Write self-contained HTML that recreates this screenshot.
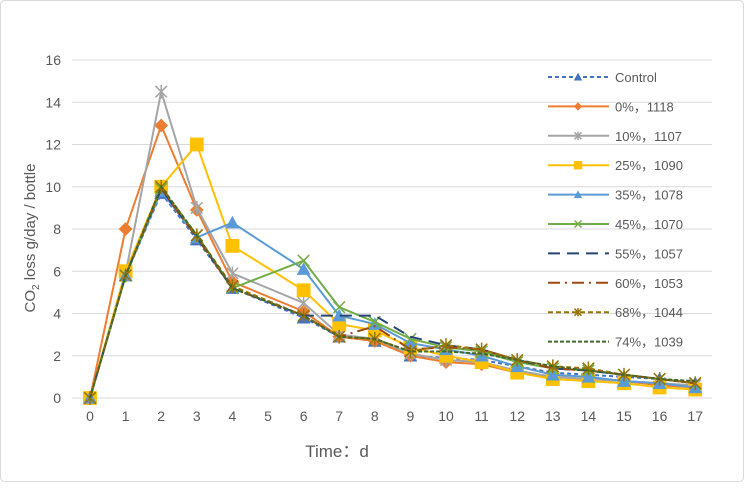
<!DOCTYPE html>
<html><head><meta charset="utf-8"><style>
body{margin:0;background:#fff}
svg text{font-family:"Liberation Sans","Noto Sans CJK SC",sans-serif;fill:#595959}
</style></head><body>
<svg id="s" width="745" height="483" xmlns="http://www.w3.org/2000/svg">
<rect x="0.5" y="0.5" width="743" height="481" rx="4" fill="#fff" stroke="#d9d9d9"/>
<g id="g"></g>
<text x="337" y="457" font-size="17" text-anchor="middle">Time：d</text>
<text transform="translate(35,238) rotate(-90)" font-size="15" text-anchor="middle">CO<tspan font-size="10" dy="4">2</tspan><tspan dy="-4"> loss g/day / bottle</tspan></text>
</svg>
<script>
var g=document.getElementById('g'),h='';
function X(i){return 90+i*35.6}function Y(v){return 398-v*21.125}
for(var k=0;k<=8;k++){var y=Y(k*2);h+='<line x1="72" x2="712" y1="'+y+'" y2="'+y+'" stroke="#d9d9d9"/>';h+='<text x="61" y="'+(y+5)+'" font-size="14" text-anchor="end">'+(k*2)+'</text>';}
for(var i=0;i<18;i++)h+='<text x="'+X(i)+'" y="421" font-size="14" text-anchor="middle">'+i+'</text>';
var idx=[0,1,2,3,4,6,7,8,9,10,11,12,13,14,15,16,17];
var S=[
['Control','#4472C4','4,3','tri',[0,5.8,9.7,7.5,5.2,3.8,2.9,2.7,2.0,1.9,1.8,1.5,1.2,1.1,1.0,0.9,0.7]],
['0%，1118','#ED7D31','','dia',[0,8.0,12.9,8.9,5.5,4.1,2.9,2.7,2.0,1.7,1.6,1.2,1.0,0.9,0.8,0.6,0.5]],
['10%，1107','#A5A5A5','','ast',[0,5.9,14.5,9.0,5.9,4.5,3.0,2.8,2.1,1.8,1.7,1.3,1.0,0.9,0.8,0.7,0.6]],
['25%，1090','#FFC000','','sq',[0,6.0,10.0,12.0,7.2,5.1,3.5,3.2,2.4,2.0,1.7,1.2,0.9,0.8,0.7,0.5,0.4]],
['35%，1078','#5B9BD5','','tri',[0,5.8,9.8,7.6,8.3,6.1,3.9,3.5,2.6,2.3,2.0,1.5,1.1,1.0,0.8,0.7,0.5]],
['45%，1070','#70AD47','','x',[0,5.8,9.9,7.7,5.2,6.5,4.3,3.6,2.8,2.4,2.2,1.7,1.4,1.3,1.1,0.9,0.7]],
['55%，1057','#264478','12,7','',[0,5.8,9.9,7.6,5.2,3.9,3.9,3.9,2.9,2.5,2.3,1.8,1.4,1.3,1.1,0.9,0.7]],
['60%，1053','#9E480E','12,5,2,5','',[0,5.8,9.9,7.6,5.2,3.9,2.9,3.4,2.3,2.4,2.3,1.8,1.4,1.3,1.1,0.9,0.7]],
['68%，1044','#997300','5,3','ast',[0,5.8,10.0,7.7,5.3,3.9,2.9,2.8,2.2,2.5,2.3,1.8,1.5,1.4,1.1,0.9,0.7]],
['74%，1039','#43682B','4,2','',[0,5.8,10.0,7.7,5.2,3.9,2.9,2.8,2.2,2.2,2.1,1.8,1.5,1.3,1.1,0.9,0.8]]];
function mk(t,x,y,c,s){s=s||1.15;
if(t=='tri')return '<path d="M'+x+','+(y-6*s)+'L'+(x+6*s)+','+(y+5*s)+'L'+(x-6*s)+','+(y+5*s)+'Z" fill="'+c+'"/>';
if(t=='dia')return '<path d="M'+x+','+(y-6*s)+'L'+(x+6*s)+','+y+'L'+x+','+(y+6*s)+'L'+(x-6*s)+','+y+'Z" fill="'+c+'"/>';
if(t=='sq')return '<rect x="'+(x-6*s)+'" y="'+(y-6*s)+'" width="'+12*s+'" height="'+12*s+'" fill="'+c+'"/>';
if(t=='x')return '<path d="M'+(x-5*s)+','+(y-5*s)+'L'+(x+5*s)+','+(y+5*s)+'M'+(x+5*s)+','+(y-5*s)+'L'+(x-5*s)+','+(y+5*s)+'" stroke="'+c+'" stroke-width="1.5"/>';
if(t=='ast')return '<path d="M'+(x-5*s)+','+(y-5*s)+'L'+(x+5*s)+','+(y+5*s)+'M'+(x+5*s)+','+(y-5*s)+'L'+(x-5*s)+','+(y+5*s)+'M'+x+','+(y-6*s)+'L'+x+','+(y+6*s)+'" stroke="'+c+'" stroke-width="1.5"/>';
return '';}
S.forEach(function(s,j){var p=s[4].map(function(v,k){return X(idx[k])+','+Y(v)}).join(' ');
h+='<polyline points="'+p+'" fill="none" stroke="'+s[1]+'" stroke-width="2"'+(s[2]?' stroke-dasharray="'+s[2]+'"':'')+'/>';
s[4].forEach(function(v,k){h+=mk(s[3],X(idx[k]),Y(v),s[1])});
var ly=77+j*29.4;
h+='<line x1="548" x2="609" y1="'+ly+'" y2="'+ly+'" stroke="'+s[1]+'" stroke-width="2"'+(s[2]?' stroke-dasharray="'+s[2]+'"':'')+'/>';
h+=mk(s[3],578,ly,s[1],0.7);
h+='<text x="615" y="'+(ly+5)+'" font-size="13">'+s[0]+'</text>';});
g.innerHTML=h;
</script>
</body></html>
